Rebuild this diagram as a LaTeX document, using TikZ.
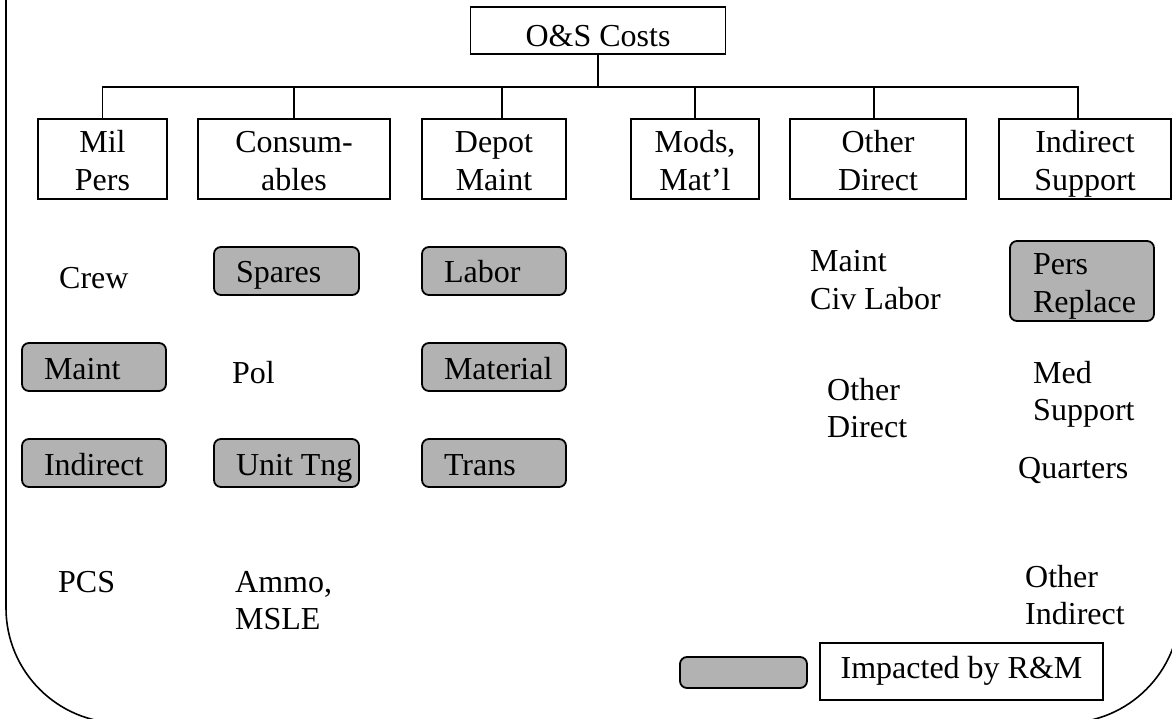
\documentclass[tikz,border=0pt]{standalone}
\usepackage{fontspec}
\setmainfont{Liberation Serif}
\definecolor{boxgray}{RGB}{178,178,178}
\newcommand{\twol}[2]{\begin{tabular}[t]{@{}l@{}}#1\\#2\end{tabular}}
\newcommand{\twoc}[2]{\begin{tabular}[t]{@{}c@{}}#1\\#2\end{tabular}}
\newcommand{\gtxt}[2][145pt]{\makebox[#1][l]{\hspace*{22pt}#2}}
\begin{document}
\begin{tikzpicture}[x=1pt,y=-1pt,
  every node/.style={font=\fontsize{32}{37.5}\selectfont},
  ln/.style={line width=1.6pt},
  wbox/.style={draw, line width=1.6pt, inner sep=0pt, minimum height=80pt, text height=34pt, text depth=46pt},
  gbox/.style={draw, line width=1.8pt, fill=boxgray, rounded corners=7pt, inner sep=0pt, minimum height=48pt},
  gone/.style={gbox, text height=30pt, text depth=6pt},
  lbl/.style={inner sep=0pt, anchor=base west}
]
\useasboundingbox (0,0) rectangle (1172,719);
\begin{scope}
\clip (0,0) rectangle (1172,719);
\draw[ln, rounded corners=115pt] (6,-60) -- (6,723) -- (1180,723) -- (1180,-60);

% top
\node[wbox, minimum width=255pt, minimum height=47pt, text height=40pt, text depth=7pt] (os) at (598,30.5) {O\&S Costs};
% second level
\node[wbox, minimum width=129pt] (mil) at (102.5,159) {\twoc{Mil}{Pers}};
\node[wbox, minimum width=192pt] (con) at (294,159) {\twoc{Consum-}{ables}};
\node[wbox, minimum width=144pt] (dep) at (494,159) {\twoc{Depot}{Maint}};
\node[wbox, minimum width=128pt] (mod) at (695,159) {\twoc{Mods,}{Mat’l}};
\node[wbox, minimum width=176pt] (oth) at (878,159) {\twoc{Other}{Direct}};
\node[wbox, minimum width=172pt] (ind) at (1085,159) {\twoc{Indirect}{Support}};

\coordinate (j) at (598,87);
\draw[ln] (os.south) -- (j);
\draw[ln] (mil.north) -- (mil.north |- j) -- ([xshift=-7pt]ind.north |- j) -- ([xshift=-7pt]ind.north);
\draw[ln] (con.north) -- (con.north |- j);
\draw[ln] ([xshift=8pt]dep.north) -- ([xshift=8pt]dep.north |- j);
\draw[ln] (mod.north) -- (mod.north |- j);
\draw[ln] ([xshift=-4pt]oth.north) -- ([xshift=-4pt]oth.north |- j);

% Mil Pers column
\node[lbl] (crew) at (59,288) {Crew};
\node[gone] (maint) at (94,367) {\gtxt[144pt]{Maint}};
\node[gone] (indir) at (94,463) {\gtxt[144pt]{Indirect}};
\node[lbl] (pcs) at (58,592) {PCS};

% Consumables column
\node[gone] (spares) at (286.5,271) {\gtxt{Spares}};
\node[lbl] (pol) at (232,383) {Pol};
\node[gone] (unit) at (286.5,463) {\gtxt{Unit Tng}};
\node[lbl] (ammo) at (235,592) {\twol{Ammo,}{MSLE}};

% Depot column
\node[gone] (labor) at (494,271) {\gtxt[144pt]{Labor}};
\node[gone] (material) at (494,367) {\gtxt[144pt]{Material}};
\node[gone] (trans) at (494,463) {\gtxt[144pt]{Trans}};

% Other direct column
\node[lbl] (civ) at (810,272) {\twol{Maint}{Civ Labor}};
\node[lbl] (odir) at (827,400) {\twol{Other}{Direct}};

% Indirect support column
\node[gbox, minimum height=80pt, text height=34pt, text depth=46pt] (pers) at (1082,281) {\makebox[144pt][l]{\hspace*{23pt}\twol{Pers}{Replace}}};
\node[lbl] (med) at (1033,383) {\twol{Med}{Support}};
\node[lbl] (quart) at (1018,478) {Quarters};
\node[lbl] (oind) at (1025,587) {\twol{Other}{Indirect}};

% legend
\node[gbox, minimum width=127pt, minimum height=31pt] (leggray) at (743.5,672.5) {};
\node[wbox, minimum width=283pt, minimum height=57pt, text height=35pt, text depth=22pt] (legtext) at (961.5,671.5) {Impacted by R\&M};
\end{scope}
\end{tikzpicture}
\end{document}
